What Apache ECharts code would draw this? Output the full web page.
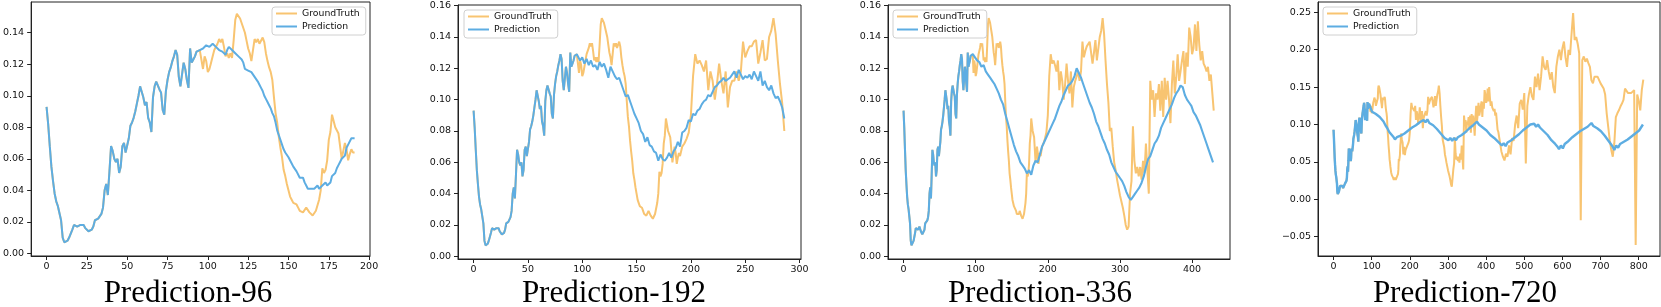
<!DOCTYPE html>
<html>
<head>
<meta charset="utf-8">
<script src="https://cdn.jsdelivr.net/npm/echarts@6/dist/echarts.min.js"></script>
<style>
html,body{margin:0;padding:0;background:#fff;}
#chart{width:1661px;height:307px;}
</style>
</head>
<body>
<div id="chart"></div>
<script>
// ---- DATA ----
const panelTitles = ['Prediction-96', 'Prediction-192', 'Prediction-336', 'Prediction-720'];
const seriesNames = ['GroundTruth', 'Prediction'];

// shared input window (index 0..95)
const history = [
0.093,0.082,0.068,0.055,0.046,0.038,0.033,0.030,0.029,0.021,
0.010,0.007,0.006,0.008,0.010,0.011,0.015,0.018,0.018,0.017,
0.017,0.018,0.019,0.018,0.016,0.015,0.014,0.014,0.015,0.017,
0.021,0.022,0.022,0.023,0.025,0.029,0.040,0.044,0.037,0.052,
0.068,0.065,0.060,0.058,0.060,0.051,0.055,0.068,0.070,0.064,
0.065,0.073,0.081,0.083,0.086,0.090,0.095,0.100,0.106,0.106,
0.099,0.094,0.096,0.086,0.083,0.077,0.099,0.106,0.109,0.109,
0.104,0.102,0.091,0.088,0.103,0.110,0.115,0.118,0.122,0.125,
0.129,0.126,0.112,0.106,0.107,0.121,0.117,0.110,0.105,0.130,
0.121,0.123,0.125,0.128,0.129,0.129];

// ground truth, index 96..191 (every index)
const gtPart1 = [
0.128,0.117,0.125,0.122,0.115,0.117,0.121,0.125,0.129,0.130,
0.133,0.136,0.134,0.136,0.131,0.125,0.127,0.124,0.127,0.124,
0.135,0.148,0.152,0.153,0.149,0.146,0.143,0.140,0.135,0.130,
0.127,0.122,0.129,0.136,0.134,0.136,0.133,0.134,0.137,0.134,
0.127,0.122,0.118,0.115,0.110,0.099,0.089,0.083,0.074,0.067,
0.061,0.053,0.049,0.044,0.040,0.036,0.034,0.032,0.031,0.031,
0.029,0.027,0.026,0.026,0.027,0.029,0.028,0.026,0.025,0.024,
0.025,0.027,0.028,0.034,0.040,0.054,0.051,0.053,0.059,0.072,
0.077,0.088,0.084,0.080,0.081,0.076,0.068,0.060,0.061,0.070,
0.066,0.059,0.063,0.066,0.064,0.064];
// ground truth, index 192..286 (every 2nd index)
const gtPart2 = [
0.070,0.072,0.075,0.079,0.090,0.115,0.129,0.123,0.125,0.122,
0.118,0.125,0.106,0.118,0.112,0.100,0.110,0.123,0.112,0.104,
0.118,0.095,0.108,0.112,0.112,0.118,0.112,0.118,0.137,0.127,
0.131,0.134,0.134,0.137,0.138,0.123,0.130,0.138,0.125,0.126,
0.140,0.144,0.152,0.142,0.125,0.110,0.098,0.080];
// ground truth, index 288..430 (every 2nd index)
const gtPart3 = [
0.082,0.070,0.060,0.055,0.049,0.044,0.039,0.035,0.031,0.026,
0.020,0.017,0.019,0.040,0.048,0.083,0.061,0.053,0.057,0.051,
0.057,0.049,0.061,0.053,0.072,0.055,0.040,0.112,0.100,0.106,
0.089,0.104,0.100,0.110,0.093,0.112,0.089,0.114,0.100,0.112,
0.100,0.085,0.110,0.125,0.104,0.114,0.129,0.112,0.118,0.125,
0.131,0.110,0.130,0.121,0.146,0.140,0.129,0.133,0.148,0.131,
0.150,0.135,0.125,0.131,0.123,0.121,0.118,0.121,0.112,0.116,
0.116,0.093];
// ground truth, index 432..812 (every 4th index)
const gtPart4 = [
0.090,0.077,0.064,0.057,0.052,0.061,0.057,0.072,0.060,0.082,
0.078,0.100,0.112,0.095,0.128,0.133,0.120,0.142,0.048,0.125,
0.140,0.150,0.138,0.133,0.164,0.150,0.168,0.146,0.164,0.191,
0.177,0.173,0.186,0.171,0.160,0.170,0.150,0.142,0.177,0.191,
0.200,0.186,0.202,0.211,0.190,0.177,0.200,0.193,0.222,0.249,
0.213,0.217,0.208,0.195,-0.028,0.186,0.191,0.184,0.188,0.182,
0.177,0.159,0.155,0.164,0.166,0.164,0.162,0.155,0.153,0.148,
0.140,0.115,0.097,0.079,0.066,0.057,0.075,0.110,0.115,0.119,
0.124,0.128,0.133,0.148,0.146,0.142,0.142,0.142,0.144,0.146,
-0.061,0.140,0.132,0.119,0.146,0.160];

// predictions, starting at index 96
const pred96 = [ // every index
0.129,0.130,0.131,0.132,0.131,0.131,0.132,0.133,0.133,0.131,
0.130,0.129,0.129,0.128,0.127,0.126,0.129,0.131,0.130,0.129,
0.128,0.127,0.126,0.125,0.124,0.123,0.121,0.117,0.116,0.116,
0.115,0.115,0.114,0.112,0.112,0.109,0.107,0.105,0.103,0.100,
0.098,0.096,0.094,0.092,0.089,0.087,0.083,0.078,0.075,0.072,
0.069,0.066,0.064,0.064,0.061,0.060,0.057,0.055,0.054,0.052,
0.051,0.048,0.048,0.048,0.045,0.043,0.041,0.042,0.041,0.042,
0.041,0.041,0.043,0.041,0.042,0.043,0.043,0.045,0.043,0.044,
0.045,0.049,0.050,0.051,0.054,0.056,0.058,0.060,0.061,0.062,
0.067,0.069,0.068,0.073,0.073,0.073];
const pred192 = [ // every 2nd index
0.128,0.125,0.127,0.123,0.126,0.122,0.125,0.121,0.122,0.119,
0.124,0.121,0.123,0.119,0.114,0.121,0.118,0.115,0.113,0.114,
0.110,0.106,0.102,0.103,0.099,0.095,0.091,0.088,0.085,0.080,
0.078,0.073,0.076,0.071,0.070,0.067,0.066,0.061,0.065,0.062,
0.061,0.063,0.066,0.063,0.067,0.069,0.073,0.070,0.079,0.080,
0.082,0.087,0.086,0.091,0.090,0.093,0.094,0.097,0.099,0.100,
0.103,0.102,0.105,0.108,0.109,0.111,0.112,0.114,0.112,0.113,
0.114,0.116,0.118,0.114,0.119,0.116,0.113,0.115,0.114,0.116,
0.113,0.118,0.115,0.112,0.118,0.109,0.112,0.108,0.106,0.109,
0.104,0.101,0.102,0.099,0.095,0.088];
const pred336 = [ // every 3rd index
0.129,0.127,0.125,0.124,0.121,0.122,0.118,0.116,0.114,0.112,
0.110,0.107,0.104,0.100,0.097,0.091,0.086,0.081,0.076,0.071,
0.067,0.064,0.060,0.058,0.056,0.053,0.055,0.052,0.058,0.061,
0.060,0.065,0.070,0.073,0.076,0.079,0.082,0.085,0.088,0.092,
0.096,0.099,0.103,0.106,0.109,0.110,0.112,0.115,0.120,0.117,
0.114,0.110,0.106,0.102,0.098,0.095,0.091,0.086,0.083,0.079,
0.075,0.072,0.068,0.065,0.060,0.057,0.054,0.052,0.050,0.048,
0.045,0.041,0.038,0.036,0.038,0.040,0.042,0.044,0.047,0.051,
0.057,0.062,0.064,0.068,0.072,0.074,0.077,0.082,0.085,0.088,
0.091,0.094,0.097,0.101,0.104,0.106,0.109,0.108,0.103,0.100,
0.098,0.096,0.092,0.090,0.087,0.084,0.080,0.076,0.072,0.068,
0.064,0.060];
const pred720 = [ // every 5th index
0.128,0.117,0.119,0.114,0.113,0.110,0.108,0.104,0.099,0.095,
0.090,0.087,0.084,0.080,0.083,0.081,0.085,0.083,0.088,0.087,
0.092,0.091,0.096,0.094,0.099,0.098,0.103,0.101,0.106,0.103,
0.107,0.102,0.104,0.099,0.100,0.094,0.093,0.088,0.087,0.082,
0.084,0.079,0.082,0.078,0.082,0.079,0.083,0.081,0.086,0.084,
0.090,0.089,0.095,0.094,0.099,0.098,0.104,0.100,0.101,0.096,
0.097,0.092,0.091,0.086,0.087,0.082,0.081,0.077,0.077,0.072,
0.075,0.071,0.076,0.074,0.079,0.078,0.083,0.081,0.087,0.086,
0.092,0.091,0.096,0.095,0.100,0.098,0.101,0.097,0.100,0.096,
0.096,0.091,0.091,0.086,0.085,0.079,0.080,0.074,0.071,0.067,
0.072,0.068,0.074,0.073,0.078,0.077,0.083,0.082,0.087,0.086,
0.091,0.090,0.094,0.093,0.097,0.096,0.102,0.098,0.100,0.095,
0.096,0.091,0.090,0.085,0.083,0.078,0.076,0.071,0.066,0.072,
0.069,0.074,0.072,0.077,0.075,0.080,0.079,0.084,0.083,0.088,
0.087,0.092,0.094,0.100];

// axis ticks
const xTicks = [
  [0, 25, 50, 75, 100, 125, 150, 175, 200],
  [0, 50, 100, 150, 200, 250, 300],
  [0, 100, 200, 300, 400],
  [0, 100, 200, 300, 400, 500, 600, 700, 800]
];
const yTicks = [
  [0.00, 0.02, 0.04, 0.06, 0.08, 0.10, 0.12, 0.14],
  [0.00, 0.02, 0.04, 0.06, 0.08, 0.10, 0.12, 0.14, 0.16],
  [0.00, 0.02, 0.04, 0.06, 0.08, 0.10, 0.12, 0.14, 0.16],
  [-0.05, 0.00, 0.05, 0.10, 0.15, 0.20, 0.25]
];
const horizons = [96, 192, 336, 720];
const inputLen = 96;

// ---- BUILD ----
function pairs(start, step, arr) { return arr.map((v, i) => [start + i * step, v]); }
const histPairs = pairs(0, 1, history);
const gtAll = histPairs
  .concat(pairs(96, 1, gtPart1))
  .concat(pairs(192, 2, gtPart2))
  .concat(pairs(288, 2, gtPart3))
  .concat(pairs(432, 4, gtPart4));
const preds = [
  histPairs.concat(pairs(96, 1, pred96)),
  histPairs.concat(pairs(96, 2, pred192)),
  histPairs.concat(pairs(96, 3, pred336)),
  histPairs.concat(pairs(96, 5, pred720))
];

// layout (pixels)
const grids = [
  {left: 29, top: 2, width: 341, height: 254},
  {left: 458, top: 5, width: 343, height: 254},
  {left: 888, top: 5, width: 342, height: 254},
  {left: 1318, top: 2, width: 342, height: 254}
];
const yRange = [[-0.0017, 0.1595], [-0.0017, 0.1604], [-0.0017, 0.1604], [-0.0758, 0.2638]];
const legendPos = [{left: 272, top: 7}, {left: 464, top: 10}, {left: 893, top: 10}, {left: 1323, top: 7}];
const titleX = [188, 614, 1040, 1465];
const predWidth = [2, 2, 2.1, 2.4];

const ORANGE = '#F8C471', BLUE = '#5DADE2';
const tickFont = {fontFamily: 'DejaVu Sans', fontSize: 9.5, color: '#111'};
const fmtY = v => v.toFixed(2).replace('-', '\u2212');

const option = {
  animation: false,
  backgroundColor: '#fff',
  grid: grids.map(g => Object.assign({show: true, borderColor: '#222', borderWidth: 1, backgroundColor: 'transparent'}, g)),
  xAxis: horizons.map((h, i) => {
    const n = inputLen + h;
    const pad = 0.05 * (n - 1);
    return {
      type: 'value', gridIndex: i, min: -pad, max: n - 1 + pad,
      splitLine: {show: false},
      axisLine: {show: true, onZero: false, lineStyle: {color: '#222', width: 1}},
      axisTick: {show: true, length: 4, lineStyle: {color: '#222', width: 1}, customValues: xTicks[i]},
      axisLabel: Object.assign({margin: 6, customValues: xTicks[i], formatter: v => String(v)}, tickFont)
    };
  }),
  yAxis: horizons.map((h, i) => ({
    type: 'value', gridIndex: i, min: yRange[i][0], max: yRange[i][1],
    splitLine: {show: false},
    axisLine: {show: true, onZero: false, lineStyle: {color: '#222', width: 1}},
    axisTick: {show: true, length: 4, lineStyle: {color: '#222', width: 1}, customValues: yTicks[i]},
    axisLabel: Object.assign({margin: 7, customValues: yTicks[i], formatter: fmtY}, tickFont)
  })),
  legend: legendPos.map(p => ({
    left: p.left, top: p.top, orient: 'vertical',
    data: seriesNames,
    itemWidth: 21, itemHeight: 10, itemGap: 4,
    padding: [2, 6, 4, 3],
    backgroundColor: 'rgba(255,255,255,0.85)',
    borderColor: '#d0d0d0', borderWidth: 1, borderRadius: 3,
    itemStyle: {opacity: 0},
    lineStyle: {width: 2},
    textStyle: {fontFamily: 'DejaVu Sans', fontSize: 9.3, color: '#111'},
    selectedMode: false
  })),
  series: [],
  graphic: panelTitles.map((t, i) => ({
    type: 'text', x: titleX[i], y: 294,
    style: {text: t, font: '31px "Liberation Serif", "Times New Roman", serif', fill: '#000',
            textAlign: 'center', textVerticalAlign: 'middle', align: 'center', verticalAlign: 'middle'}
  }))
};

horizons.forEach((h, i) => {
  const n = inputLen + h;
  option.series.push({
    name: seriesNames[0], type: 'line', xAxisIndex: i, yAxisIndex: i,
    data: gtAll.filter(p => p[0] < n),
    symbol: 'none', showSymbol: false,
    lineStyle: {color: ORANGE, width: 2}, itemStyle: {color: ORANGE}
  });
  option.series.push({
    name: seriesNames[1], type: 'line', xAxisIndex: i, yAxisIndex: i,
    data: preds[i],
    symbol: 'none', showSymbol: false,
    lineStyle: {color: BLUE, width: predWidth[i]}, itemStyle: {color: BLUE}
  });
});

const chart = echarts.init(document.getElementById('chart'), null, {renderer: 'canvas'});
chart.setOption(option);
</script>
</body>
</html>
